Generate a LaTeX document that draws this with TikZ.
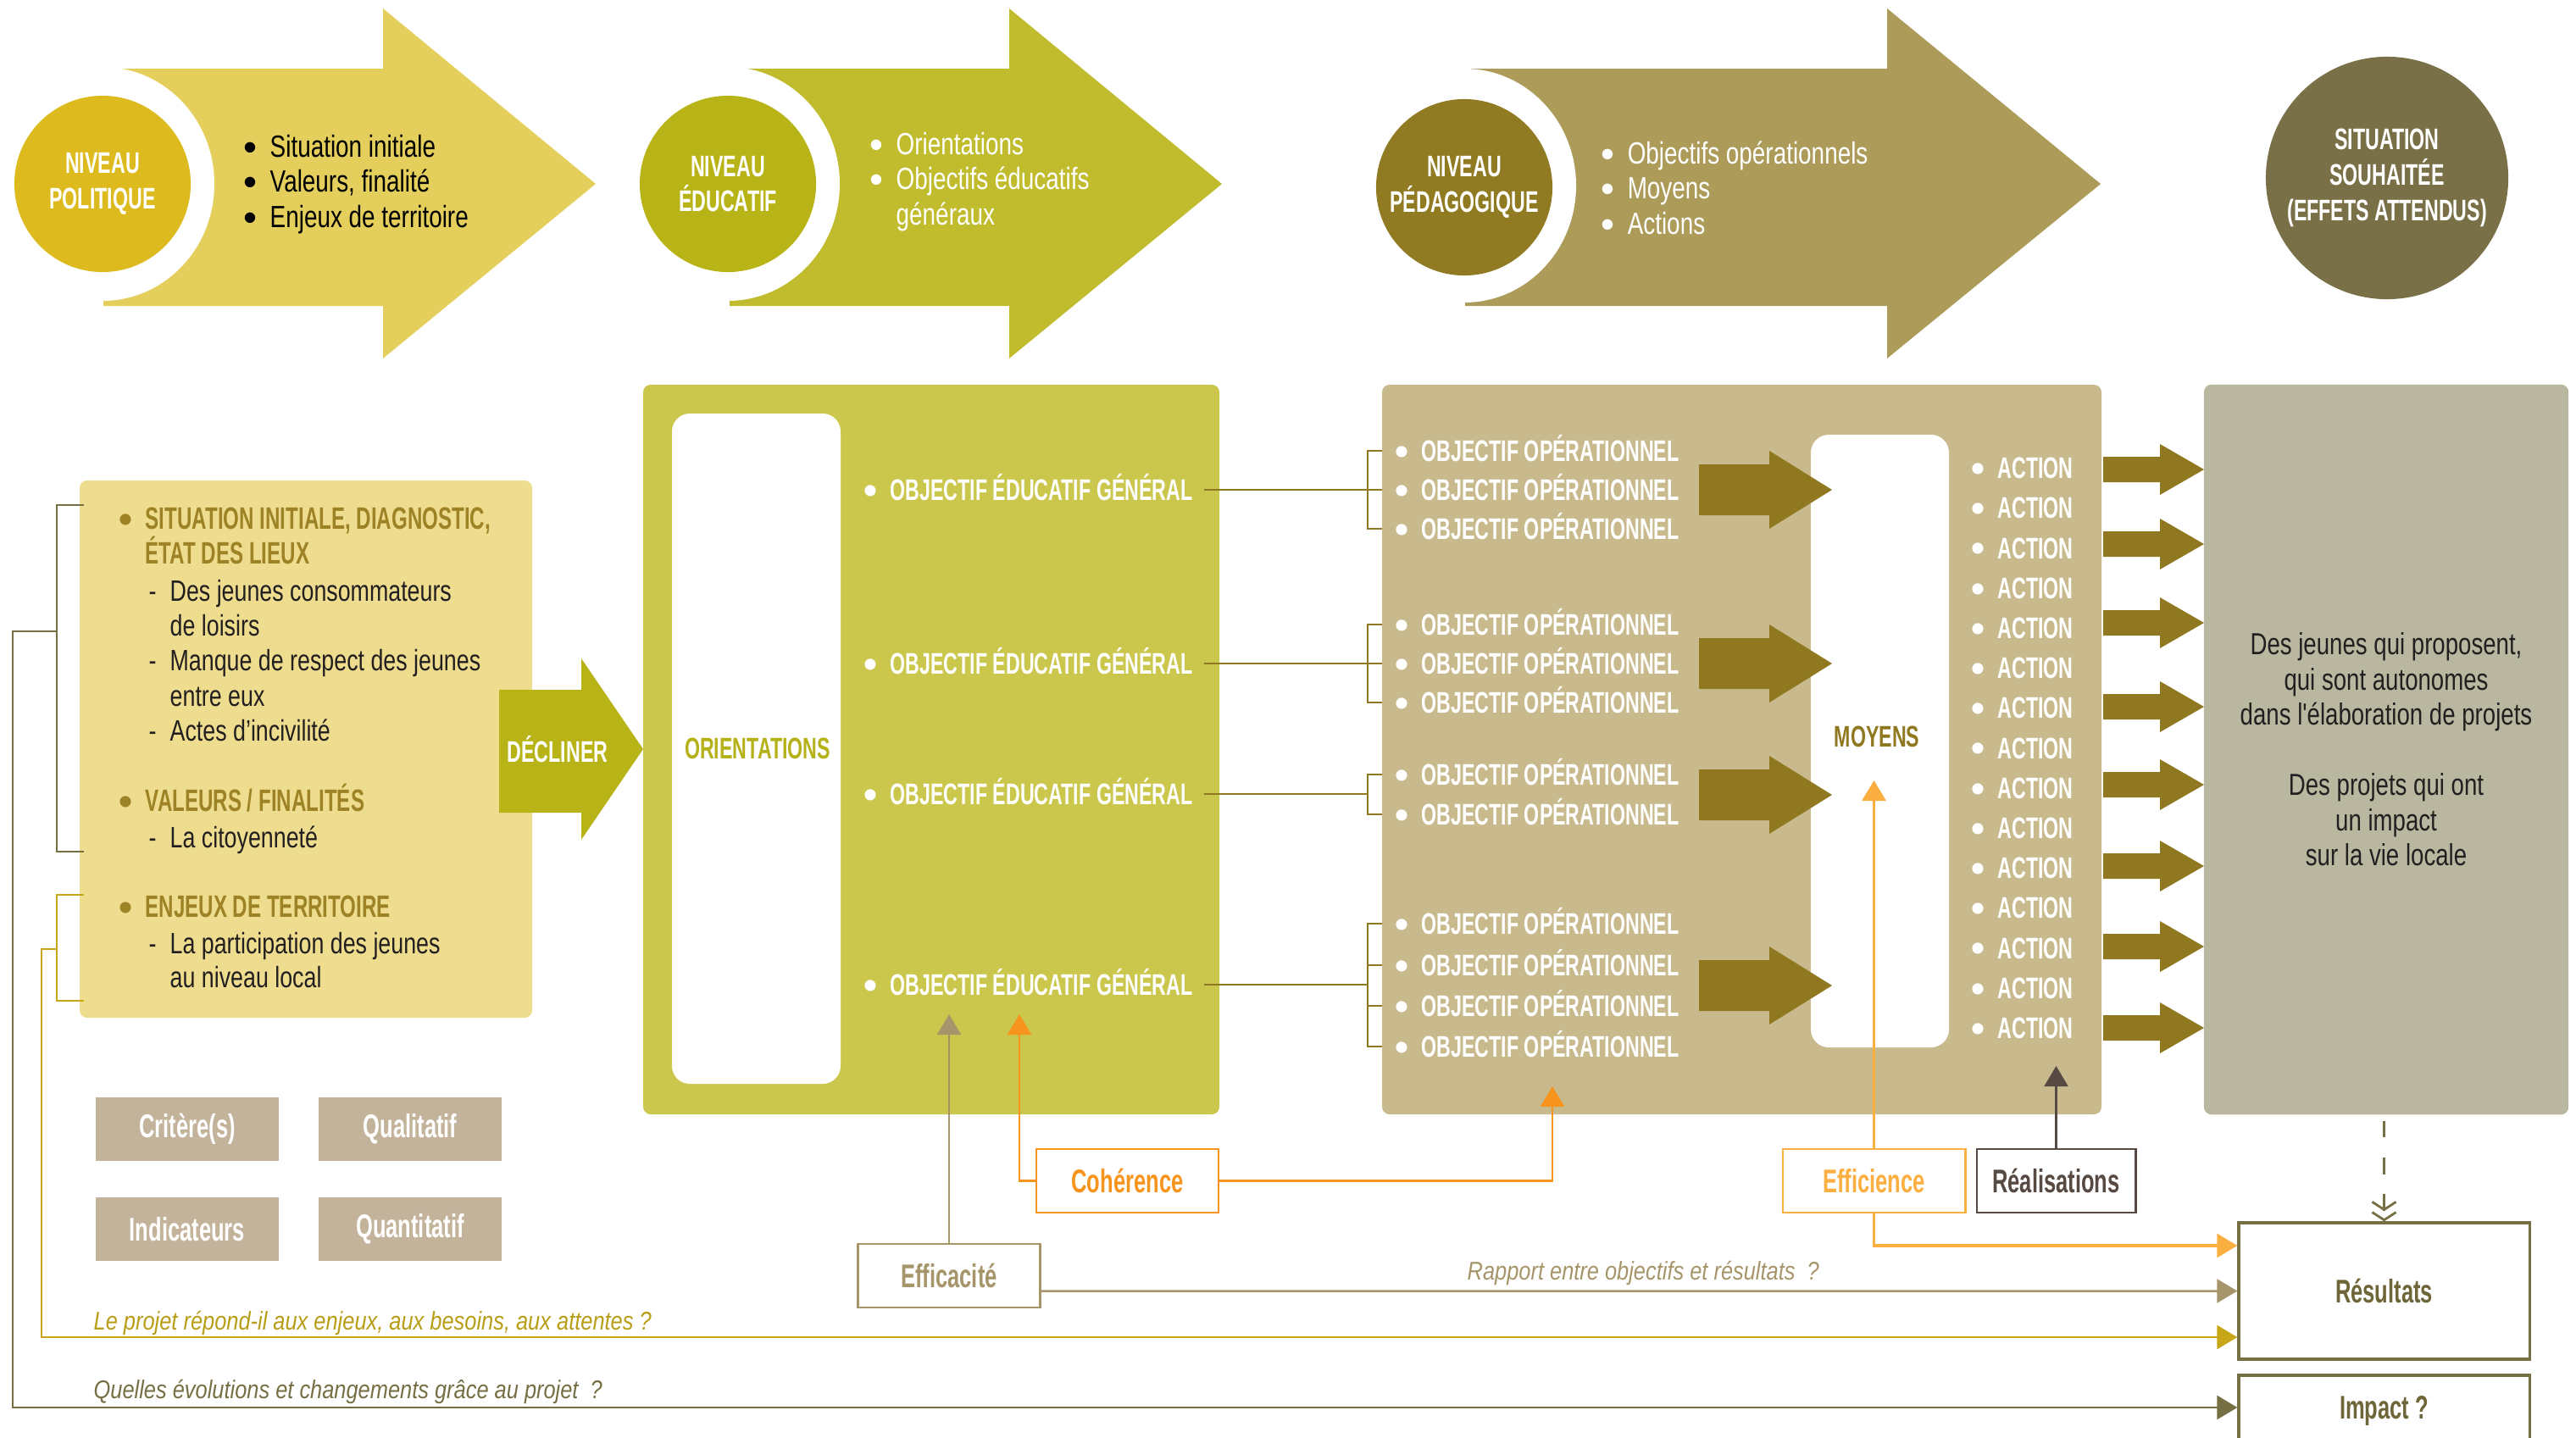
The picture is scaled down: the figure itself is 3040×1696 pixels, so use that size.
\documentclass[tikz,border=0pt]{standalone}
\usepackage{fontspec}
\setmainfont{Liberation Sans}
\newfontfamily\plainf{Liberation Sans}
\newfontfamily\cnd{Liberation Sans}[FakeStretch=0.77]
\newfontfamily\cndb{Liberation Sans}[FakeStretch=0.66]
\newfontfamily\cndi{Liberation Sans}[FakeStretch=0.84]
\usetikzlibrary{arrows.meta}
\definecolor{cA}{HTML}{DDBB1E}
\definecolor{aA}{HTML}{E5CF5C}
\definecolor{cB}{HTML}{B8B417}
\definecolor{aB}{HTML}{C1BC2E}
\definecolor{cC}{HTML}{907A22}
\definecolor{aC}{HTML}{AD9B59}
\definecolor{cD}{HTML}{7A7047}
\definecolor{leftC}{HTML}{EEDD8F}
\definecolor{headC}{HTML}{9E8326}
\definecolor{grnC}{HTML}{CBC74D}
\definecolor{oriC}{HTML}{B5B118}
\definecolor{opC}{HTML}{C8BA8D}
\definecolor{olvC}{HTML}{8F7820}
\definecolor{grayC}{HTML}{B9B79F}
\definecolor{beigeC}{HTML}{C4B39B}
\definecolor{orC}{HTML}{F7941D}
\definecolor{loC}{HTML}{FBAF41}
\definecolor{khC}{HTML}{A6956A}
\definecolor{brC}{HTML}{564A42}
\definecolor{dkC}{HTML}{776F44}
\definecolor{gdC}{HTML}{C7A617}
\definecolor{lpC}{HTML}{B89D17}
\definecolor{txtD}{HTML}{231F20}
\definecolor{resC}{HTML}{6E6538}
\newcommand\bul{\makebox[7.4pt][l]{\hspace{-1.6pt}\raisebox{-1.1pt}{\plainf\fontsize{13}{13}\selectfont •}}}
\newcommand\dsh{\makebox[7.1pt][l]{-}}
\begin{document}
\begin{tikzpicture}[x=0.01cm,y=-0.01cm,
  txt/.style={inner sep=0pt, anchor=west, text height=7.2pt, text depth=0pt},
  capb/.style={txt, font=\cndb\bfseries\fontsize{10}{12}\selectfont},
  headt/.style={txt, text=headC, font=\cndb\bfseries\fontsize{10.4}{12}\selectfont},
  regt/.style={txt, font=\cnd\fontsize{10.3}{12}\selectfont},
  bodyt/.style={txt, text=txtD, font=\cnd\fontsize{9.9}{12}\selectfont},
  itx/.style={txt, font=\cndi\itshape\fontsize{8.6}{10}\selectfont},
  circ/.style={circle, inner sep=0pt, minimum size=2.08cm, align=center, text=white, font=\cndb\bfseries\fontsize{10}{11.8}\selectfont},
  lbl/.style={draw, line width=0.8pt, fill=white, minimum width=2.15cm, minimum height=0.75cm, inner sep=0pt, font=\cndb\bfseries\fontsize{11}{13}\selectfont},
  beige/.style={fill=beigeC, minimum width=2.16cm, minimum height=0.75cm, inner sep=0pt, text=white, font=\cndb\bfseries\fontsize{11}{13}\selectfont},
  resbox/.style={draw=dkC, line width=0.9pt, fill=white, minimum width=3.43cm, inner sep=0pt, text=resC, font=\cndb\bfseries\fontsize{11}{13}\selectfont},
  tri/.style={-{Triangle[length=0.24cm,width=0.28cm]}},
  dkL/.style={draw=dkC, line width=0.8pt},
  gdL/.style={draw=gdC, line width=0.8pt},
  orL/.style={draw=orC, line width=0.8pt},
  loL/.style={draw=loC, line width=0.9pt},
  khL/.style={draw=khC, line width=0.7pt},
  brL/.style={draw=brC, line width=0.7pt},
  olvL/.style={draw=olvC, line width=0.6pt},
]
\useasboundingbox (0,0) rectangle (3040,1696);
\clip (0,0) rectangle (3040,1696);

% ---------- top arrows ----------
\fill[aA] (122,81) -- (452,81) -- (452,10) -- (703,217) -- (452,423) -- (452,361) -- (122,361) -- cycle;
\fill[white] (121,217) ellipse [x radius=132, y radius=138];
\node[circ, fill=cA] (nivpol) at (121,217) {NIVEAU\\POLITIQUE};
\node[regt, text=black] (p1) at (292,173) {\bul Situation initiale};
\node[regt, text=black] (p2) at (292,214) {\bul Valeurs, finalité};
\node[regt, text=black] (p3) at (292,256) {\bul Enjeux de territoire};

\fill[aB] (861,81) -- (1191,81) -- (1191,10) -- (1442,217) -- (1191,423) -- (1191,361) -- (861,361) -- cycle;
\fill[white] (859,217) ellipse [x radius=132, y radius=138];
\node[circ, fill=cB] (niveduc) at (859,217) {NIVEAU\\ÉDUCATIF};
\node[regt, text=white] (e1) at (1031,170) {\bul Orientations};
\node[regt, text=white] (e2) at (1031,211) {\bul Objectifs éducatifs};
\node[regt, text=white] (e3) at (1057,253) {généraux};

\fill[aC] (1729,81) -- (2227,81) -- (2227,10) -- (2479,217) -- (2227,423) -- (2227,361) -- (1729,361) -- cycle;
\fill[white] (1728,219) ellipse [x radius=132, y radius=138];
\node[circ, fill=cC] (nivped) at (1728,221) {NIVEAU\\PÉDAGOGIQUE};
\node[regt, text=white] (d1) at (1894,181) {\bul Objectifs opérationnels};
\node[regt, text=white] (d2) at (1894,222) {\bul Moyens};
\node[regt, text=white] (d3) at (1894,264) {\bul Actions};

\node[circ, fill=cD, minimum size=2.86cm, font=\cndb\bfseries\fontsize{10}{12}\selectfont] (situ) at (2817,210) {SITUATION\\SOUHAITÉE\\(EFFETS ATTENDUS)};

% ---------- left box ----------
\fill[leftC, rounded corners=2.5pt] (94,567) rectangle (628,1201);
\node[headt] (l1) at (145,612) {\bul SITUATION INITIALE, DIAGNOSTIC,};
\node[headt] (l2) at (171,653) {ÉTAT DES LIEUX};
\node[bodyt] (l3) at (175,697) {\dsh Des jeunes consommateurs};
\node[bodyt] (l4) at (200,738) {de loisirs};
\node[bodyt] (l5) at (175,779) {\dsh Manque de respect des jeunes};
\node[bodyt] (l6) at (200,821) {entre eux};
\node[bodyt] (l7) at (175,862) {\dsh Actes d’incivilité};
\node[headt] (l8) at (145,945) {\bul VALEURS / FINALITÉS};
\node[bodyt] (l9) at (175,988) {\dsh La citoyenneté};
\node[headt] (l10) at (145,1070) {\bul ENJEUX DE TERRITOIRE};
\node[bodyt] (l11) at (175,1113) {\dsh La participation des jeunes};
\node[bodyt] (l12) at (200,1153) {au niveau local};

% brackets on the left
\coordinate (jA) at (67,745);
\coordinate (jB) at (67,1120);
\draw[dkL] (99,596) -- (67,596) -- (67,1005) -- (99,1005);
\draw[gdL] (99,1056) -- (67,1056) -- (67,1181) -- (99,1181);

% decliner arrow
\fill[cB] (589,814) -- (686,814) -- (686,777) -- (759,884) -- (686,991) -- (686,959) -- (589,959) -- cycle;
\node[capb, anchor=center, text=white] (decl) at (658,887) {DÉCLINER};

% ---------- green panel ----------
\fill[grnC, rounded corners=2.5pt] (759,454) rectangle (1439,1315);
\fill[white, rounded corners=6pt] (793,488) rectangle (992,1279);
\node[capb, anchor=center, text=oriC] (orient) at (894,883) {ORIENTATIONS};
\foreach \i/\y in {1/578,2/783,3/937,4/1162}
  \node[capb, text=white] (eg\i) at (1024,\y) {\bul OBJECTIF ÉDUCATIF GÉNÉRAL};

% ---------- operational panel ----------
\fill[opC, rounded corners=2.5pt] (1631,454) rectangle (2480,1315);
\fill[white, rounded corners=6pt] (2137,513) rectangle (2300,1236);
\node[capb, anchor=center, text=olvC] (moy) at (2215,869) {MOYENS};
\foreach \i/\y in {1/532,2/578,3/624,4/737,5/783,6/829,7/914,8/961,9/1090,10/1139,11/1187,12/1235}
  \node[capb, text=white] (op\i) at (1651,\y) {\bul OBJECTIF OPÉRATIONNEL};
\foreach \i in {1,...,15}
  \node[capb, text=white] (ac\i) at (2331,{552+47.2*(\i-1)}) {\bul ACTION};
\foreach \y in {578,783,938,1163}
  \fill[olvC] (2005,{\y-30}) -- (2088,{\y-30}) -- (2088,{\y-46}) -- (2162,\y) -- (2088,{\y+46}) -- (2088,{\y+30}) -- (2005,{\y+30}) -- cycle;
\foreach \y in {554,642,735,834,926,1022,1117,1213}
  \fill[olvC] (2482,{\y-15}) -- (2549,{\y-15}) -- (2549,{\y-30}) -- (2601,\y) -- (2549,{\y+30}) -- (2549,{\y+15}) -- (2482,{\y+15}) -- cycle;

% brackets EG -> OP
\coordinate (k1) at (1614,578);
\coordinate (k2) at (1614,783);
\coordinate (k3) at (1614,937);
\coordinate (k4) at (1614,1162);
\draw[olvL] ([xshift=-0.2cm]op1.west) -- (op1.west -| k1) -- (op3.west -| k1) -- ([xshift=-0.2cm]op3.west);
\draw[olvL] ([xshift=0.13cm]eg1.east) -- ([xshift=-0.2cm]op2.west);
\draw[olvL] ([xshift=-0.2cm]op4.west) -- (op4.west -| k2) -- (op6.west -| k2) -- ([xshift=-0.2cm]op6.west);
\draw[olvL] ([xshift=0.13cm]eg2.east) -- ([xshift=-0.2cm]op5.west);
\draw[olvL] ([xshift=-0.2cm]op7.west) -- (op7.west -| k3) -- (op8.west -| k3) -- ([xshift=-0.2cm]op8.west);
\draw[olvL] ([xshift=0.13cm]eg3.east) -- (k3);
\draw[olvL] ([xshift=-0.2cm]op9.west) -- (op9.west -| k4) -- (op12.west -| k4) -- ([xshift=-0.2cm]op12.west);
\draw[olvL] ([xshift=-0.2cm]op10.west) -- (op10.west -| k4);
\draw[olvL] ([xshift=-0.2cm]op11.west) -- (op11.west -| k4);
\draw[olvL] ([xshift=0.13cm]eg4.east) -- (k4);

% ---------- situation panel ----------
\node[fill=grayC, rounded corners=2.5pt, minimum width=4.3cm, minimum height=8.61cm, inner sep=0pt, align=center, text=txtD, font=\cnd\fontsize{10.2}{11.8}\selectfont] (sit) at (2816,884.5)
  {Des jeunes qui proposent,\\ qui sont autonomes\\ dans l'élaboration de projets\\[11.8pt] Des projets qui ont\\ un impact\\ sur la vie locale};

% ---------- criteria boxes ----------
\node[beige] (crit) at (221,1332.5) {Critère(s)};
\node[beige] (qual) at (484,1332.5) {Qualitatif};
\node[beige] (indi) at (221,1450.5) {Indicateurs};
\node[beige] (quan) at (484,1450.5) {Quantitatif};

% ---------- evaluation boxes ----------
\node[lbl, draw=orC, text=orC] (coh) at (1330.5,1393.5) {Cohérence};
\node[lbl, draw=khC, text=khC] (effa) at (1120,1505.5) {Efficacité};
\node[lbl, draw=loC, text=loC] (effi) at (2211.5,1393.5) {Efficience};
\node[lbl, draw=brC, text=brC, minimum width=1.87cm] (real) at (2426.5,1393.5) {Réalisations};
\node[resbox, minimum height=1.61cm] (res) at (2813.5,1523.5) {Résultats};
\node[resbox, minimum height=1.6cm] (imp) at (2813.5,1703) {};
\node[inner sep=0pt, text=resC, font=\cndb\bfseries\fontsize{11}{13}\selectfont] (impt) at (2813.5,1665) {Impact ?};

% ---------- connectors ----------
\coordinate (egIn) at (1203,1197);
\coordinate (egIn2) at (1120,1197);
\coordinate (opIn) at (1832,1282);
\coordinate (moyIn) at (2211.5,921);
\coordinate (acIn) at (2426.5,1258);
\draw[orL, tri] (coh.west) -| (egIn);
\draw[orL, tri] (coh.east) -| (opIn);
\draw[khL, tri] (effa.north) -- (egIn2);
\draw[khL, tri] ([yshift=-0.18cm]effa.east) -- (res.west);
\draw[loL, tri] (effi.north) -- (moyIn);
\draw[loL, tri] (effi.south) |- ([yshift=0.535cm]res.west);
\draw[brL, tri] (real.north) -- (acIn);
\draw[gdL, tri] (jB) -- (49,1120) |- ([yshift=-0.545cm]res.west);
\draw[dkL, tri] (jA) -- (15,745) |- ([yshift=0.42cm]imp.west);
\draw[dkL, dash pattern=on 5.5pt off 6.8pt, shorten <=0.07cm,
  -{Straight Barb[length=2.6pt,width=8pt] Straight Barb[length=2.6pt,width=8pt]}]
  (sit.south -| res.north) -- (res.north);

% ---------- italic questions ----------
\node[itx, text=khC] (rap) at (1731,1498) {Rapport entre objectifs et résultats ~?};
\node[itx, text=lpC] (q1) at (110,1557) {Le projet répond-il aux enjeux, aux besoins, aux attentes~?};
\node[itx, text=dkC] (q2) at (110,1638) {Quelles évolutions et changements grâce au projet ~?};
\end{tikzpicture}
\end{document}
